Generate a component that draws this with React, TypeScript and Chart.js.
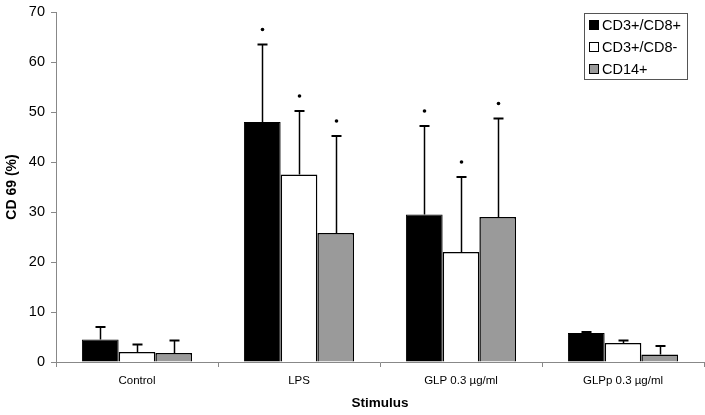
import React, { useEffect, useRef } from "react";
import { Chart, registerables } from "chart.js";

Chart.register(...registerables);

const categories = ["Control", "LPS", "GLP 0.3 µg/ml", "GLPp 0.3 µg/ml"];
const seriesNames = ["CD3+/CD8+", "CD3+/CD8-", "CD14+"];
const cd8pos = [4.5, 48.0, 29.5, 5.8];
const cd8posErr = [2.5, 15.5, 17.7, 0.2];
const cd8neg = [2.0, 37.5, 22.0, 3.8];
const cd8negErr = [1.5, 12.7, 15.0, 0.5];
const cd14 = [1.8, 25.8, 29.0, 1.5];
const cd14Err = [2.5, 19.4, 19.7, 1.7];
const significant = [false, true, true, false];
const yTicks = [0, 10, 20, 30, 40, 50, 60, 70];

const FONT = "'Liberation Sans', Arial, sans-serif";
const colors = ["#000000", "#ffffff", "#9a9a9a"];
const errors = [cd8posErr, cd8negErr, cd14Err];

const errorBarPlugin = {
  id: "errorBars",
  afterDatasetsDraw(chart: any) {
    const ctx = chart.ctx;
    const yScale = chart.scales.y;
    ctx.save();
    chart.data.datasets.forEach((ds: any, di: number) => {
      const meta = chart.getDatasetMeta(di);
      meta.data.forEach((bar: any, i: number) => {
        const top = ds.data[i] + errors[di][i];
        const yTop = yScale.getPixelForValue(top);
        const x = Math.round(bar.x) + 0.5;
        ctx.strokeStyle = "#000";
        ctx.lineWidth = 1.5;
        ctx.beginPath();
        ctx.moveTo(x, bar.y);
        ctx.lineTo(x, yTop);
        ctx.stroke();
        ctx.lineWidth = 2;
        ctx.beginPath();
        ctx.moveTo(x - 5, yTop);
        ctx.lineTo(x + 5, yTop);
        ctx.stroke();
        if (significant[i]) {
          ctx.fillStyle = "#000";
          ctx.beginPath();
          ctx.arc(x, yTop - 15, 1.8, 0, Math.PI * 2);
          ctx.fill();
        }
      });
    });
    ctx.restore();
  },
};

const legendPlugin = {
  id: "boxLegend",
  afterDraw(chart: any) {
    const ctx = chart.ctx;
    ctx.save();
    const bx = 584.5, by = 13.5, bw = 103, bh = 66;
    ctx.fillStyle = "#fff";
    ctx.fillRect(bx, by, bw, bh);
    ctx.strokeStyle = "#555";
    ctx.lineWidth = 1;
    ctx.strokeRect(bx, by, bw, bh);
    ctx.font = `14.5px ${FONT}`;
    ctx.textBaseline = "middle";
    ctx.textAlign = "left";
    seriesNames.forEach((name, i) => {
      const cy = 25 + i * 22;
      ctx.fillStyle = colors[i];
      ctx.fillRect(589.5, cy - 4.5, 9, 9);
      ctx.strokeStyle = "#000";
      ctx.strokeRect(589.5, cy - 4.5, 9, 9);
      ctx.fillStyle = "#000";
      ctx.fillText(name, 602, cy + 0.5);
    });
    ctx.restore();
  },
};

export default function App() {
  const ref = useRef<HTMLCanvasElement>(null);
  useEffect(() => {
    if (!ref.current) return;
    const chart = new Chart(ref.current, {
      type: "bar",
      data: {
        labels: categories,
        datasets: [
          { label: seriesNames[0], data: cd8pos, backgroundColor: colors[0], borderColor: "#000", borderWidth: 1 },
          { label: seriesNames[1], data: cd8neg, backgroundColor: colors[1], borderColor: "#000", borderWidth: 1.5 },
          { label: seriesNames[2], data: cd14, backgroundColor: colors[2], borderColor: "#000", borderWidth: 1.5 },
        ],
      },
      options: {
        responsive: false,
        animation: false,
        devicePixelRatio: 1,
        layout: { padding: { top: 12, right: 1, left: 0, bottom: 0 } },
        datasets: { bar: { categoryPercentage: 0.68, barPercentage: 1 } },
        plugins: { legend: { display: false }, tooltip: { enabled: false } },
        scales: {
          x: {
            grid: { drawOnChartArea: false, drawTicks: true, tickLength: 5, color: "#888", offset: true },
            border: { color: "#888", width: 1 },
            ticks: { color: "#000", font: { family: FONT, size: 11.5 }, padding: 7, maxRotation: 0 },
            title: { display: true, text: "Stimulus", color: "#000", font: { family: FONT, size: 13.5, weight: "bold" }, padding: { top: 0, bottom: 4 } },
            afterFit: (s: any) => { s.height = 53; s.paddingLeft = 0; s.paddingRight = 0; },
          },
          y: {
            min: 0,
            max: 70,
            afterBuildTicks: (s: any) => { s.ticks = yTicks.map((v) => ({ value: v })); },
            grid: { drawOnChartArea: false, drawTicks: true, tickLength: 5, color: "#888" },
            border: { color: "#888", width: 1 },
            ticks: { color: "#000", font: { family: FONT, size: 14.5 }, padding: 6 },
            title: { display: true, text: "CD 69 (%)", color: "#000", font: { family: FONT, size: 14, weight: "bold" }, padding: { top: 4, bottom: 0 } },
            afterFit: (s: any) => { s.width = 56; s.paddingTop = 0; s.paddingBottom = 0; },
          },
        },
      },
      plugins: [errorBarPlugin, legendPlugin],
    });
    return () => chart.destroy();
  }, []);
  return (
    <div style={{ position: "fixed", left: 0, top: 0, width: 705, height: 415, background: "#fff" }}>
      <canvas ref={ref} width={705} height={415} style={{ display: "block" }} />
    </div>
  );
}
